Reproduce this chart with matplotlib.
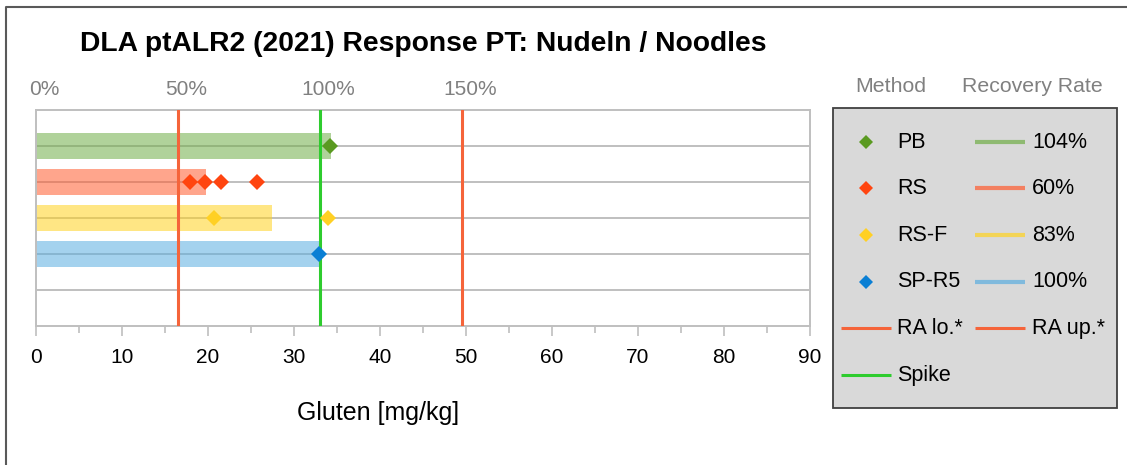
import numpy as np
import matplotlib
matplotlib.use("Agg")
import matplotlib.pyplot as plt
from matplotlib.patches import Rectangle
import matplotlib.transforms as mtransforms

plt.rcParams['font.family'] = ['Liberation Sans', 'DejaVu Sans']

# ---- data ----
methods = ["PB", "RS", "RS-F", "SP-R5"]
recovery = [104, 60, 83, 100]           # recovery rate in %
results = [[34.2], [17.9, 19.6, 21.5, 25.7], [20.7, 33.9], [32.9]]
spike = 33.0
ra_lo = 16.5
ra_up = 49.5
rate_labels = ["104%", "60%", "83%", "100%"]
pct_ticks = [0, 50, 100, 150]
x_ticks = list(range(0, 91, 10))

marker_colors = ["#5a9a21", "#ff4510", "#ffd024", "#0a7fd4"]
bar_colors = ["#70ad47", "#ff5b2e", "#ffd21f", "#5aaee0"]
ra_color = "#f5643a"
spike_color = "#2ecc2e"
grid_color = "#bfbfbf"

W, H = 1127, 465
fig = plt.figure(figsize=(W / 100, H / 100), dpi=100)
ax = fig.add_axes([36 / W, 1 - 326 / H, 774 / W, 216 / H])

ypos = [5, 4, 3, 2]
ax.set_xlim(0, 90)
ax.set_ylim(0, 6)
for y in [1, 2, 3, 4, 5]:
    ax.axhline(y, color=grid_color, lw=1.4, zorder=1)

for i, m in enumerate(methods):
    ax.barh(ypos[i], spike * recovery[i] / 100, height=0.72, left=0,
            color=bar_colors[i], alpha=0.55, zorder=2, linewidth=0)
    ax.plot(results[i], [ypos[i]] * len(results[i]), ls="none", marker="D",
            ms=8.3, color=marker_colors[i], zorder=5, markeredgewidth=0)

ax.axvline(ra_lo, color=ra_color, lw=2.2, zorder=3)
ax.axvline(ra_up, color=ra_color, lw=2.2, zorder=3)
ax.axvline(spike, color=spike_color, lw=2.2, zorder=3)

for s in ax.spines.values():
    s.set_color(grid_color)
    s.set_linewidth(1.4)
ax.set_yticks([])
ax.set_xticks(x_ticks)
ax.set_xticks(np.arange(5, 90, 10), minor=True)
ax.tick_params(axis='x', which='major', length=7, width=1.2, color=grid_color,
               labelsize=15, pad=9, labelcolor="black")
ax.tick_params(axis='x', which='minor', length=5, width=1.2, color=grid_color)
ax.set_xlabel("Gluten [mg/kg]", fontsize=18)
ax.xaxis.set_label_coords((378 - 36) / 774, -(413 - 326) / 216)
ax.xaxis.label.set_va("center")

sec = ax.secondary_xaxis('top', functions=(lambda x: x / spike * 100,
                                             lambda p: p * spike / 100))
sec.set_xticks(pct_ticks)
sec.set_xticklabels([f"{p}%" for p in pct_ticks])
sec.tick_params(length=0, labelsize=15, labelcolor="#808080", pad=8)
sec.spines['top'].set_visible(False)
offset = mtransforms.ScaledTranslation(8 / 100, 0, fig.dpi_scale_trans)
for lab in sec.get_xticklabels():
    lab.set_transform(lab.get_transform() + offset)

# overlay axes in pixel coordinates for title, legend and frame
lax = fig.add_axes([0, 0, 1, 1], zorder=10)
lax.set_xlim(0, W)
lax.set_ylim(H, 0)
lax.axis('off')
lax.patch.set_alpha(0)

lax.text(80, 44, "DLA ptALR2 (2021) Response PT: Nudeln / Noodles",
         fontsize=20.3, fontweight='bold', ha='left', va='center')

lax.text(891, 86, "Method", fontsize=15.3, color="#808080", ha='center', va='center')
lax.text(1032, 86, "Recovery Rate", fontsize=15.3, color="#808080", ha='center', va='center')

lax.add_patch(Rectangle((833, 108), 284, 300, facecolor="#d9d9d9",
                        edgecolor="#404040", lw=1.3))
rows = [142, 188, 235, 281.5, 328, 375]
fs = 15.5
for i, m in enumerate(methods):
    y = rows[i]
    lax.plot([866], [y], ls="none", marker="D", ms=7, color=marker_colors[i],
             markeredgewidth=0)
    lax.text(897, y, m, fontsize=fs, ha='left', va='center')
    lax.plot([975, 1025], [y, y], color=bar_colors[i], alpha=0.7, lw=3,
             solid_capstyle='butt')
    lax.text(1032, y, rate_labels[i], fontsize=fs, ha='left', va='center')
lax.plot([841, 891], [rows[4]] * 2, color=ra_color, lw=2.2, solid_capstyle='butt')
lax.text(897, rows[4], "RA lo.*", fontsize=fs, ha='left', va='center')
lax.plot([975, 1025], [rows[4]] * 2, color=ra_color, lw=2.2, solid_capstyle='butt')
lax.text(1032, rows[4], "RA up.*", fontsize=fs, ha='left', va='center')
lax.plot([841, 891], [rows[5]] * 2, color=spike_color, lw=2.2, solid_capstyle='butt')
lax.text(897, rows[5], "Spike", fontsize=fs, ha='left', va='center')

# outer frame (top and left visible)
lax.plot([5.5, 5.5, W + 5], [H + 5, 7.5, 7.5], color="#595959", lw=1.5,
         clip_on=False)

fig.savefig("out.png", dpi=100)
